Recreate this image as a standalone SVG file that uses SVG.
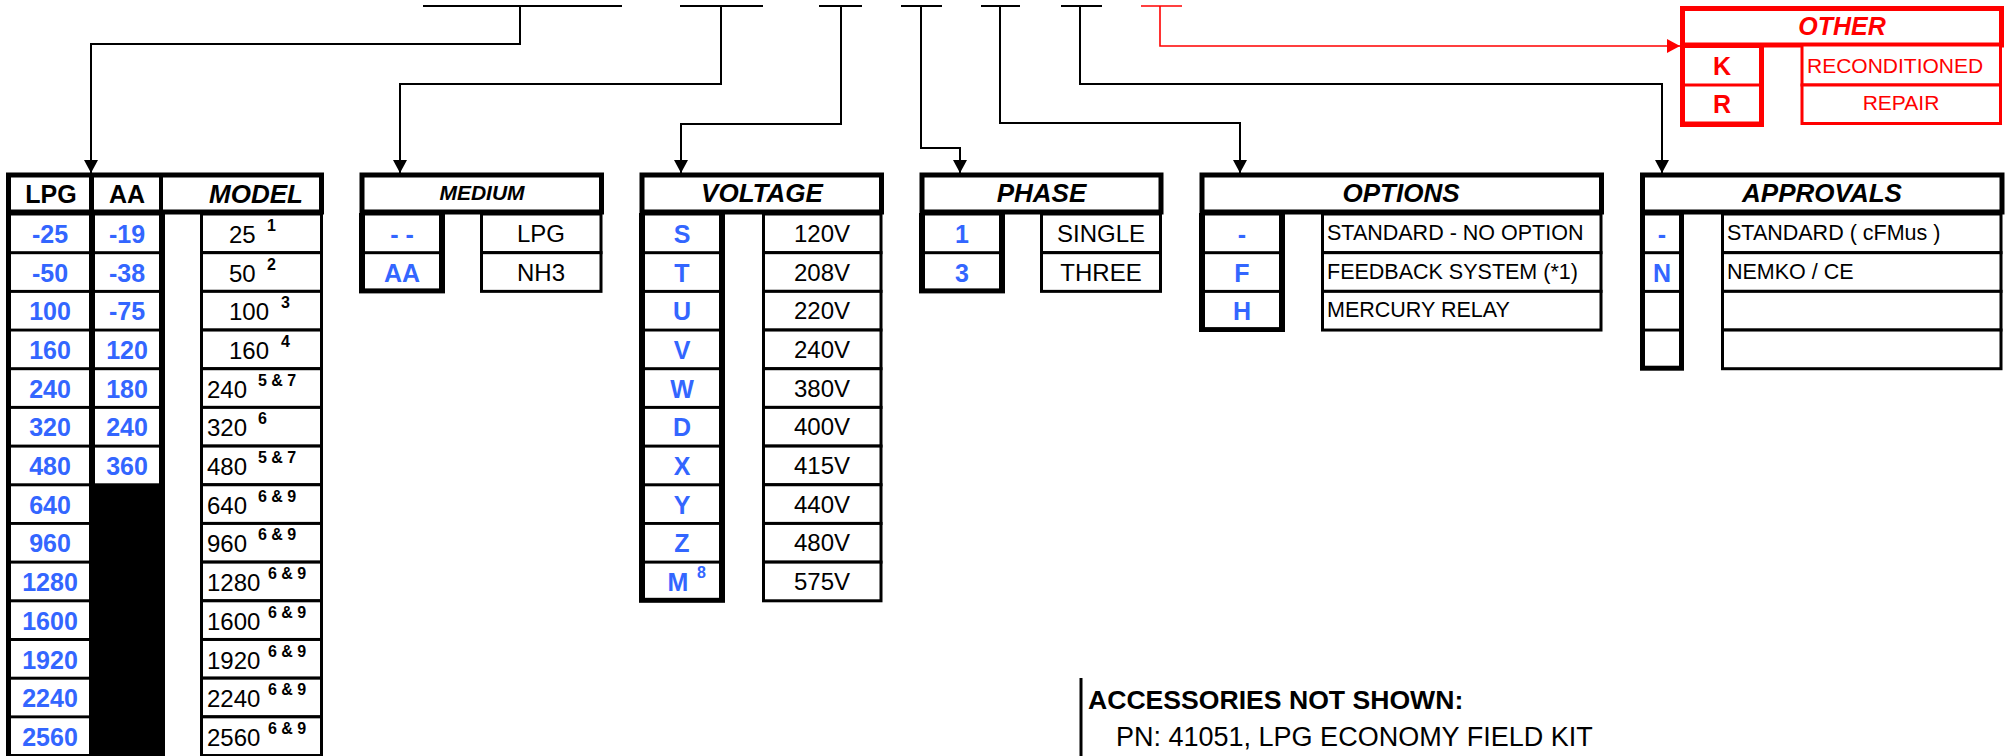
<svg xmlns="http://www.w3.org/2000/svg" width="2007" height="756" viewBox="0 0 2007 756">
<style>
text{font-family:"Liberation Sans",Arial,sans-serif}
.hdr{fill:#fff;stroke:#000;stroke-width:5}
.cell{fill:#fff;stroke:#000;stroke-width:3}
.bk{fill:#000}
.wc{fill:#fff}
.ht{font-size:26px;font-weight:bold;font-style:italic;text-anchor:middle}
.hb{font-size:25px;font-weight:bold;text-anchor:middle}
.code{font-size:25px;font-weight:bold;fill:#3366FF;text-anchor:middle}
.val{font-size:24px;text-anchor:middle}
.mv{font-size:24px}
.sup{font-size:16px;font-weight:bold}
.sm{font-size:21.5px}
.conn{fill:none;stroke:#000;stroke-width:2}
.red{fill:none;stroke:#f00;stroke-width:1.6}
.rhdr{fill:#fff;stroke:#f00;stroke-width:5}
.rcell{fill:#fff;stroke:#f00;stroke-width:3}
.rt{fill:#f00}
</style>
<defs>
<marker id="ah" markerUnits="userSpaceOnUse" markerWidth="14" markerHeight="14" refX="13" refY="7" orient="auto"><path d="M0,0 L13,7 L0,14 z" fill="#000"/></marker>
<marker id="ahr" markerUnits="userSpaceOnUse" markerWidth="14" markerHeight="14" refX="13" refY="7" orient="auto"><path d="M0,0 L13,7 L0,14 z" fill="#f00"/></marker>
</defs>

<g id="connectors">
<path class="conn" d="M423,6 H622 M680,6 H763 M819,6 H862 M901,6 H942 M981,6 H1020 M1061,6 H1102"/>
<path class="red" d="M1141,6 H1182"/>
<path class="conn" d="M520,6 V44 H91 V173" marker-end="url(#ah)"/>
<path class="conn" d="M721,6 V84 H400 V173" marker-end="url(#ah)"/>
<path class="conn" d="M841,6 V124 H681 V173" marker-end="url(#ah)"/>
<path class="conn" d="M921,6 V148 H960 V173" marker-end="url(#ah)"/>
<path class="conn" d="M1000,6 V123 H1240 V173" marker-end="url(#ah)"/>
<path class="conn" d="M1080,6 V84 H1662 V173" marker-end="url(#ah)"/>
<path class="red" d="M1160,6 V46 H1680" marker-end="url(#ahr)"/>
</g>

<g id="model">
<rect class="hdr" x="8.5" y="175" width="313" height="37"/>
<line x1="91.5" y1="175" x2="91.5" y2="212" stroke="#000" stroke-width="5"/>
<line x1="161" y1="175" x2="161" y2="212" stroke="#000" stroke-width="4"/>
<text class="hb" x="51" y="203">LPG</text>
<text class="hb" x="127" y="203">AA</text>
<text class="ht" x="256" y="203">MODEL</text>
<rect class="bk" x="6" y="213" width="159" height="544"/>
<g class="wc">
<rect x="11" y="215.5" width="78" height="35.7"/><rect x="11" y="254.2" width="78" height="35.7"/><rect x="11" y="292.9" width="78" height="35.7"/><rect x="11" y="331.5" width="78" height="35.7"/><rect x="11" y="370.2" width="78" height="35.7"/><rect x="11" y="408.9" width="78" height="35.7"/><rect x="11" y="447.6" width="78" height="35.7"/><rect x="11" y="486.3" width="78" height="35.7"/><rect x="11" y="524.9" width="78" height="35.7"/><rect x="11" y="563.6" width="78" height="35.7"/><rect x="11" y="602.3" width="78" height="35.7"/><rect x="11" y="641" width="78" height="35.7"/><rect x="11" y="679.7" width="78" height="35.7"/><rect x="11" y="718.3" width="78" height="35.7"/>
<rect x="95" y="215.5" width="64" height="35.7"/><rect x="95" y="254.2" width="64" height="35.7"/><rect x="95" y="292.9" width="64" height="35.7"/><rect x="95" y="331.5" width="64" height="35.7"/><rect x="95" y="370.2" width="64" height="35.7"/><rect x="95" y="408.9" width="64" height="35.7"/><rect x="95" y="447.6" width="64" height="35.7"/>
</g>
<g>
<rect class="cell" x="201.5" y="214" width="120" height="38.68"/><rect class="cell" x="201.5" y="252.68" width="120" height="38.68"/><rect class="cell" x="201.5" y="291.36" width="120" height="38.68"/><rect class="cell" x="201.5" y="330.04" width="120" height="38.68"/><rect class="cell" x="201.5" y="368.72" width="120" height="38.68"/><rect class="cell" x="201.5" y="407.4" width="120" height="38.68"/><rect class="cell" x="201.5" y="446.08" width="120" height="38.68"/><rect class="cell" x="201.5" y="484.76" width="120" height="38.68"/><rect class="cell" x="201.5" y="523.44" width="120" height="38.68"/><rect class="cell" x="201.5" y="562.12" width="120" height="38.68"/><rect class="cell" x="201.5" y="600.8" width="120" height="38.68"/><rect class="cell" x="201.5" y="639.48" width="120" height="38.68"/><rect class="cell" x="201.5" y="678.16" width="120" height="38.68"/><rect class="cell" x="201.5" y="716.84" width="120" height="38.68"/>
</g>
<text class="code" x="50" y="243">-25</text><text class="code" x="50" y="281.7">-50</text><text class="code" x="50" y="320.4">100</text><text class="code" x="50" y="359">160</text><text class="code" x="50" y="397.7">240</text><text class="code" x="50" y="436.4">320</text><text class="code" x="50" y="475.1">480</text><text class="code" x="50" y="513.8">640</text><text class="code" x="50" y="552.4">960</text><text class="code" x="50" y="591.1">1280</text><text class="code" x="50" y="629.8">1600</text><text class="code" x="50" y="668.5">1920</text><text class="code" x="50" y="707.2">2240</text><text class="code" x="50" y="745.8">2560</text>
<text class="code" x="127" y="243">-19</text><text class="code" x="127" y="281.7">-38</text><text class="code" x="127" y="320.4">-75</text><text class="code" x="127" y="359">120</text><text class="code" x="127" y="397.7">180</text><text class="code" x="127" y="436.4">240</text><text class="code" x="127" y="475.1">360</text>
<text class="mv" x="229" y="243">25</text><text class="sup" x="267" y="231">1</text>
<text class="mv" x="229" y="281.7">50</text><text class="sup" x="267" y="269.7">2</text>
<text class="mv" x="229" y="320.4">100</text><text class="sup" x="281" y="308.4">3</text>
<text class="mv" x="229" y="359">160</text><text class="sup" x="281" y="347">4</text>
<text class="mv" x="207" y="397.7">240</text><text class="sup" x="258" y="385.7">5 &amp; 7</text>
<text class="mv" x="207" y="436.4">320</text><text class="sup" x="258" y="424.4">6</text>
<text class="mv" x="207" y="475.1">480</text><text class="sup" x="258" y="463.1">5 &amp; 7</text>
<text class="mv" x="207" y="513.8">640</text><text class="sup" x="258" y="501.8">6 &amp; 9</text>
<text class="mv" x="207" y="552.4">960</text><text class="sup" x="258" y="540.4">6 &amp; 9</text>
<text class="mv" x="207" y="591.1">1280</text><text class="sup" x="268" y="579.1">6 &amp; 9</text>
<text class="mv" x="207" y="629.8">1600</text><text class="sup" x="268" y="617.8">6 &amp; 9</text>
<text class="mv" x="207" y="668.5">1920</text><text class="sup" x="268" y="656.5">6 &amp; 9</text>
<text class="mv" x="207" y="707.2">2240</text><text class="sup" x="268" y="695.2">6 &amp; 9</text>
<text class="mv" x="207" y="745.8">2560</text><text class="sup" x="268" y="733.8">6 &amp; 9</text>
</g>

<g id="medium">
<rect class="hdr" x="362" y="175" width="239.5" height="37"/>
<text class="ht" x="482" y="200" style="font-size:21px">MEDIUM</text>
<rect class="bk" x="359" y="213" width="86" height="80.4"/>
<rect class="wc" x="365" y="215.5" width="74" height="35.7"/><rect class="wc" x="365" y="254.2" width="74" height="34.2"/>
<rect class="cell" x="481.5" y="214" width="119.5" height="38.68"/><rect class="cell" x="481.5" y="252.68" width="119.5" height="38.68"/>
<text class="code" x="402" y="243">- -</text><text class="code" x="402" y="281.7">AA</text>
<text class="val" x="541" y="242">LPG</text><text class="val" x="541" y="280.7">NH3</text>
</g>

<g id="voltage">
<rect class="hdr" x="642" y="175" width="239.5" height="37"/>
<text class="ht" x="762" y="202">VOLTAGE</text>
<rect class="bk" x="639" y="213" width="86" height="389.8"/>
<g class="wc">
<rect x="645" y="215.5" width="74" height="35.7"/><rect x="645" y="254.2" width="74" height="35.7"/><rect x="645" y="292.9" width="74" height="35.7"/><rect x="645" y="331.5" width="74" height="35.7"/><rect x="645" y="370.2" width="74" height="35.7"/><rect x="645" y="408.9" width="74" height="35.7"/><rect x="645" y="447.6" width="74" height="35.7"/><rect x="645" y="486.3" width="74" height="35.7"/><rect x="645" y="524.9" width="74" height="35.7"/><rect x="645" y="563.6" width="74" height="34.2"/>
</g>
<rect class="cell" x="763.5" y="214" width="117.5" height="38.68"/><rect class="cell" x="763.5" y="252.68" width="117.5" height="38.68"/><rect class="cell" x="763.5" y="291.36" width="117.5" height="38.68"/><rect class="cell" x="763.5" y="330.04" width="117.5" height="38.68"/><rect class="cell" x="763.5" y="368.72" width="117.5" height="38.68"/><rect class="cell" x="763.5" y="407.4" width="117.5" height="38.68"/><rect class="cell" x="763.5" y="446.08" width="117.5" height="38.68"/><rect class="cell" x="763.5" y="484.76" width="117.5" height="38.68"/><rect class="cell" x="763.5" y="523.44" width="117.5" height="38.68"/><rect class="cell" x="763.5" y="562.12" width="117.5" height="38.68"/>
<text class="code" x="682" y="243">S</text><text class="code" x="682" y="281.7">T</text><text class="code" x="682" y="320.4">U</text><text class="code" x="682" y="359">V</text><text class="code" x="682" y="397.7">W</text><text class="code" x="682" y="436.4">D</text><text class="code" x="682" y="475.1">X</text><text class="code" x="682" y="513.8">Y</text><text class="code" x="682" y="552.4">Z</text><text class="code" x="678" y="591.1">M</text><text class="sup" x="697" y="578" fill="#3366FF">8</text>
<text class="val" x="822" y="242">120V</text><text class="val" x="822" y="280.7">208V</text><text class="val" x="822" y="319.4">220V</text><text class="val" x="822" y="358">240V</text><text class="val" x="822" y="396.7">380V</text><text class="val" x="822" y="435.4">400V</text><text class="val" x="822" y="474.1">415V</text><text class="val" x="822" y="512.8">440V</text><text class="val" x="822" y="551.4">480V</text><text class="val" x="822" y="590.1">575V</text>
</g>

<g id="phase">
<rect class="hdr" x="922" y="175" width="239" height="37"/>
<text class="ht" x="1041.5" y="202">PHASE</text>
<rect class="bk" x="919" y="213" width="86" height="80.4"/>
<rect class="wc" x="925" y="215.5" width="74" height="35.7"/><rect class="wc" x="925" y="254.2" width="74" height="34.2"/>
<rect class="cell" x="1041.5" y="214" width="119" height="38.68"/><rect class="cell" x="1041.5" y="252.68" width="119" height="38.68"/>
<text class="code" x="962" y="243">1</text><text class="code" x="962" y="281.7">3</text>
<text class="val" x="1101" y="242">SINGLE</text><text class="val" x="1101" y="280.7">THREE</text>
</g>

<g id="options">
<rect class="hdr" x="1202" y="175" width="399.5" height="37"/>
<text class="ht" x="1401" y="202">OPTIONS</text>
<rect class="bk" x="1199" y="213" width="86" height="119"/>
<rect class="wc" x="1205" y="215.5" width="74" height="35.7"/><rect class="wc" x="1205" y="254.2" width="74" height="35.7"/><rect class="wc" x="1205" y="292.9" width="74" height="34.2"/>
<rect class="cell" x="1322.5" y="214" width="278.5" height="38.68"/><rect class="cell" x="1322.5" y="252.68" width="278.5" height="38.68"/><rect class="cell" x="1322.5" y="291.36" width="278.5" height="38.68"/>
<text class="code" x="1242" y="243">-</text><text class="code" x="1242" y="281.7">F</text><text class="code" x="1242" y="320.4">H</text>
<text class="sm" x="1327" y="240">STANDARD - NO OPTION</text><text class="sm" x="1327" y="278.7">FEEDBACK SYSTEM (*1)</text><text class="sm" x="1327" y="317.4">MERCURY RELAY</text>
</g>

<g id="approvals">
<rect class="hdr" x="1642.5" y="175" width="359.5" height="37"/>
<text class="ht" x="1822" y="202">APPROVALS</text>
<rect class="bk" x="1640" y="213" width="44" height="157.7"/>
<rect class="wc" x="1645" y="215.5" width="34" height="35.7"/><rect class="wc" x="1645" y="254.2" width="34" height="35.7"/><rect class="wc" x="1645" y="292.9" width="34" height="35.7"/><rect class="wc" x="1645" y="331.5" width="34" height="34.2"/>
<rect class="cell" x="1722.5" y="214" width="278.5" height="38.68"/><rect class="cell" x="1722.5" y="252.68" width="278.5" height="38.68"/><rect class="cell" x="1722.5" y="291.36" width="278.5" height="38.68"/><rect class="cell" x="1722.5" y="330.04" width="278.5" height="38.68"/>
<text class="code" x="1662" y="243">-</text><text class="code" x="1662" y="281.7">N</text>
<text class="sm" x="1727" y="240">STANDARD ( cFMus )</text><text class="sm" x="1727" y="278.7">NEMKO / CE</text>
</g>

<g id="other">
<rect class="rhdr" x="1682.5" y="8.5" width="319" height="36.5"/>
<text class="ht rt" x="1842" y="35" style="font-size:25px">OTHER</text>
<rect x="1680" y="45" width="84" height="82" fill="#f00"/>
<rect class="wc" x="1685" y="48" width="74" height="35.5"/><rect class="wc" x="1685" y="86.5" width="74" height="35"/>
<rect class="rcell" x="1802" y="45" width="198.5" height="40"/><rect class="rcell" x="1802" y="85" width="198.5" height="38.5"/>
<text class="hb rt" x="1722" y="75">K</text><text class="hb rt" x="1722" y="113">R</text>
<text class="sm rt" x="1807" y="73" style="font-size:21px">RECONDITIONED</text><text class="sm rt" x="1901" y="110" text-anchor="middle" style="font-size:21px">REPAIR</text>
</g>

<g id="accessories">
<line x1="1081" y1="678" x2="1081" y2="756" stroke="#000" stroke-width="3"/>
<text x="1088" y="709" style="font-size:26.6px;font-weight:bold">ACCESSORIES NOT SHOWN:</text>
<text x="1116" y="746" style="font-size:27px">PN: 41051, LPG ECONOMY FIELD KIT</text>
</g>
</svg>
